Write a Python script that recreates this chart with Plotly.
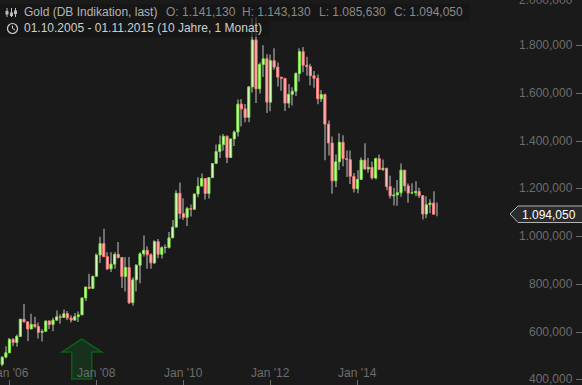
import plotly.graph_objects as go

months = [f"{y}-{m:02d}" for y in range(2005, 2016) for m in range(1, 13)][9:-1]

closes = [465,495,513,569,556,582,654,643,613,632,623,599,603,646,632,650,664,661,677,659,650,665,672,743,789,783,834,
 923,971,916,865,885,926,913,833,871,723,819,880,928,943,924,890,979,926,954,955,995,1040,1182,1097,1081,1118,1115,
 1179,1212,1244,1181,1248,1307,1357,1386,1421,1332,1410,1439,1556,1536,1500,1628,1825,1620,1722,1746,1564,1738,1711,
 1669,1664,1560,1597,1610,1684,1776,1719,1713,1675,1664,1578,1596,1472,1393,1234,1314,1396,1327,1323,1253,1201,1240,
 1321,1284,1291,1246,1327,1282,1287,1210,1171,1175,1184,1279,1213,1183,1184,1190,1172,1095,1134,1141,1094.05]
first_open = 470
opens = [first_open] + closes[:-1]
highs = [486,497,540,575,575,590,655,718,640,677,664,640,612,650,650,660,690,675,695,688,670,680,686,745,790,845,835,
 930,1000,1033,935,935,935,978,915,915,915,830,885,935,1005,960,930,985,990,960,967,1020,1070,1195,1227,1161,1126,1135,
 1180,1249,1265,1200,1250,1307,1387,1424,1431,1424,1411,1445,1575,1577,1556,1632,1917,1920,1730,1803,1765,1764,1790,
 1730,1670,1665,1640,1627,1690,1790,1795,1755,1725,1695,1680,1615,1600,1487,1420,1345,1434,1425,1361,1361,1267,1279,
 1332,1392,1330,1315,1332,1345,1324,1287,1256,1205,1238,1307,1245,1223,1224,1232,1205,1175,1170,1157,1191,1143.13]
lows = [458,457,490,514,540,538,580,640,563,612,616,573,560,615,613,603,647,635,660,650,640,650,642,672,730,780,782,
 835,890,915,860,852,865,908,785,770,718,710,770,805,917,865,865,885,910,908,930,950,1000,1045,1075,1070,1045,1085,
 1115,1165,1215,1156,1160,1245,1315,1330,1360,1309,1330,1380,1420,1462,1480,1480,1605,1561,1600,1670,1519,1526,1700,
 1630,1612,1527,1540,1550,1590,1650,1690,1675,1635,1625,1555,1565,1321,1340,1180,1208,1280,1295,1250,1221,1185,1182,
 1240,1280,1268,1240,1240,1280,1275,1195,1160,1131,1130,1167,1190,1142,1178,1170,1162,1072,1077,1098,1106,1085.63]

y_ticks = [400,600,800,1000,1200,1400,1600,1800]
y_text = ["400,000","600,000","800,000","1.000,000","1.200,000","1.400,000","1.600,000","1.800,000"]
x_ticks = ["2006-01","2008-01","2010-01","2012-01","2014-01"]
x_text = ["Jan '06","Jan '08","Jan '10","Jan '12","Jan '14"]
header = [("O: 1.141,130",164),("H: 1.143,130",240),("L: 1.085,630",317),("C: 1.094,050",392)]
last_label = "1.094,050"

W, H = 582, 385
BG = "#1b1a1a"
TICK = "#6c6c6c"
def px(x): return x / W
def py(y): return 1 - y / H

up = [c >= o for o, c in zip(opens, closes)]
wick = go.Bar(x=months, base=lows, y=[h - l for h, l in zip(highs, lows)], width=0.28,
              marker=dict(color="#6e6e6e", line_width=0), hoverinfo="skip")
def body(flag, fill, edge):
    xs = [m for m, u in zip(months, up) if u == flag]
    lo = [min(o, c) for o, c, u in zip(opens, closes, up) if u == flag]
    hi = [max(o, c) for o, c, u in zip(opens, closes, up) if u == flag]
    return go.Bar(x=xs, base=lo, y=[b - a for a, b in zip(lo, hi)], width=0.6,
                  marker=dict(color=fill, line=dict(color=edge, width=1)), hoverinfo="skip")

fig = go.Figure([wick, body(True, "#d6ffb8", "#78e040"), body(False, "#ffbcbc", "#f87878")])

shapes = [
    dict(type="path", xref="paper", yref="paper", layer="below",
         path=f"M {px(81.7)} {py(339)} L {px(101.7)} {py(352)} L {px(91.7)} {py(352)} L {px(91.7)} {py(379)} "
              f"L {px(71.7)} {py(379)} L {px(71.7)} {py(352)} L {px(62)} {py(352)} Z",
         fillcolor="#16321c", line=dict(color="#0e5c16", width=1.5)),
    dict(type="rect", xref="paper", yref="paper", x0=0, x1=px(270), y0=py(21), y1=py(37),
         fillcolor="rgba(20,20,20,0.65)", line_width=0),
    dict(type="rect", xref="paper", yref="paper", x0=0, x1=px(470), y0=py(4), y1=py(21),
         fillcolor="rgba(20,20,20,0.65)", line_width=0),
    dict(type="path", xref="paper", yref="paper",
         path=f"M {px(510)} {py(214)} L {px(518)} {py(206)} L {px(583)} {py(206)} L {px(583)} {py(222.5)} L {px(518)} {py(222.5)} Z",
         fillcolor="#2b2b2b", line=dict(color="#b5b5b5", width=1)),
    # clock icon
    dict(type="circle", xref="paper", yref="paper", x0=px(7.5), x1=px(17.5), y0=py(23.5), y1=py(33.5),
         line=dict(color="#cfcfcf", width=1.2)),
    dict(type="path", xref="paper", yref="paper",
         path=f"M {px(12.5)} {py(25.5)} L {px(12.5)} {py(28.5)} L {px(15)} {py(30)}",
         line=dict(color="#cfcfcf", width=1)),
]
# candle icon
for t, a, b, bt in [(7, 8, 17, 11), (11.5, 8, 17, 12.5), (15.5, 8, 17, 10.5)]:
    shapes.append(dict(type="line", xref="paper", yref="paper", x0=px(t), x1=px(t), y0=py(a), y1=py(b),
                       line=dict(color="#bdbdbd", width=1)))
    shapes.append(dict(type="rect", xref="paper", yref="paper", x0=px(t - 1.5), x1=px(t + 1.5), y0=py(bt), y1=py(bt + 3.5),
                       fillcolor="#bdbdbd", line_width=0))

def note(text, x, y, color, size=12, anchor="left"):
    return dict(text=text, xref="paper", yref="paper", x=px(x), y=py(y), xanchor=anchor, yanchor="middle",
                showarrow=False, font=dict(family="Liberation Sans", size=size, color=color))

annotations = [
    note("Gold (DB Indikation, last)", 21.5, 12.5, "#b4b4b4"),
    note("01.10.2005 - 01.11.2015 (10 Jahre, 1 Monat)", 21.5, 28.5, "#cfcfcf"),
    note("2.000,000", 575, 0.5, TICK, anchor="right"),
    note(last_label, 520, 214.5, "#ffffff"),
] + [note(t, x, 12.5, "#8a8a8a") for t, x in header]

# axis labels that may touch the page edge, placed through the axes' own scales
for v, t in zip(y_ticks, y_text):
    annotations.append(dict(text=t, xref="paper", yref="y", x=px(575), y=v, xanchor="right", yanchor="middle",
                            showarrow=False, yshift=0.5, font=dict(family="Liberation Sans", size=12, color=TICK)))
for v, t in zip(x_ticks, x_text):
    annotations.append(dict(text=t, xref="x", yref="paper", x=v, y=py(372.5), xanchor="center", yanchor="middle",
                            showarrow=False, font=dict(family="Liberation Sans", size=12, color=TICK)))

fig.update_layout(
    width=W, height=H, margin=dict(l=0, r=0, t=0, b=0), autosize=False,
    paper_bgcolor=BG, plot_bgcolor=BG, showlegend=False, barmode="overlay",
    font=dict(family="Liberation Sans", size=12, color=TICK),
    shapes=shapes, annotations=annotations,
    xaxis=dict(type="category", categoryorder="array", categoryarray=months, range=[0.379, 160.93],
               tickmode="array", tickvals=x_ticks, ticks="inside", ticklen=5, tickcolor=TICK,
               showticklabels=False, showgrid=False, zeroline=False, showline=False),
    yaxis=dict(side="right", range=[378, 1992.5], tickmode="array", tickvals=y_ticks,
               ticks="inside", ticklen=6, tickcolor=TICK, showticklabels=False,
               showgrid=False, zeroline=False, showline=False),
)
fig.write_html("out.html", config=dict(displayModeBar=False),
               post_script="document.body.style.margin='0';document.body.style.background='#1b1a1a';document.documentElement.style.overflow='hidden';")
